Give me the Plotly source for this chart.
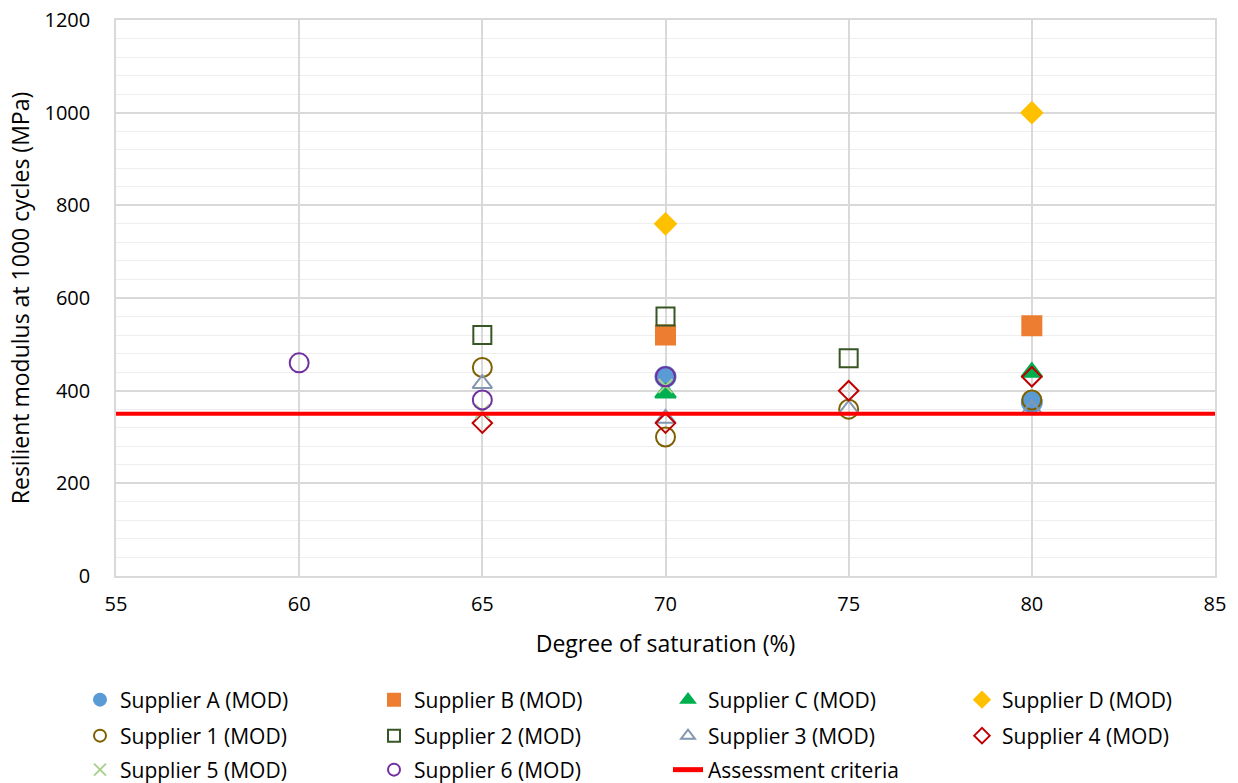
import plotly.graph_objects as go

# Degree of saturation (%) and resilient modulus (MPa) per supplier
sup_a_x = [70, 80]
sup_a_y = [430, 375]
sup_b_x = [70, 80]
sup_b_y = [520, 540]
sup_c_x = [70, 80]
sup_c_y = [395, 440]
sup_d_x = [70, 80]
sup_d_y = [760, 1000]
sup_1_x = [65, 70, 75, 80]
sup_1_y = [450, 300, 360, 380]
sup_2_x = [65, 70, 75]
sup_2_y = [520, 560, 470]
sup_3_x = [65, 70, 75, 80]
sup_3_y = [415, 340, 360, 360]
sup_4_x = [65, 70, 75, 80]
sup_4_y = [330, 330, 400, 430]
sup_5_x = [65, 70]
sup_5_y = [355, 410]
sup_6_x = [60, 65, 70]
sup_6_y = [460, 380, 430]
criteria_x = [55, 85]
criteria_y = [350, 350]

x_ticks = [55, 60, 65, 70, 75, 80, 85]
y_ticks = [0, 200, 400, 600, 800, 1000, 1200]

# name, x, y, symbol, colour, marker size, legend block
series = [
    ("Supplier A (MOD)", sup_a_x, sup_a_y, "circle", "#5B9BD5", 20, "legend"),
    ("Supplier B (MOD)", sup_b_x, sup_b_y, "square", "#ED7D31", 19, "legend"),
    ("Supplier C (MOD)", sup_c_x, sup_c_y, "triangle-up", "#00B050", 18, "legend2"),
    ("Supplier D (MOD)", sup_d_x, sup_d_y, "diamond", "#FFC000", 16, "legend2"),
    ("Supplier 1 (MOD)", sup_1_x, sup_1_y, "circle-open", "#7F6000", 19, "legend3"),
    ("Supplier 2 (MOD)", sup_2_x, sup_2_y, "square-open", "#375623", 18, "legend3"),
    ("Supplier 3 (MOD)", sup_3_x, sup_3_y, "triangle-up-open", "#8497B0", 17, "legend4"),
    ("Supplier 4 (MOD)", sup_4_x, sup_4_y, "diamond-open", "#C00000", 15, "legend4"),
    ("Supplier 5 (MOD)", sup_5_x, sup_5_y, "x-thin-open", "#A9D18E", 14, "legend5"),
    ("Supplier 6 (MOD)", sup_6_x, sup_6_y, "circle-open", "#7030A0", 19, "legend5"),
]

fig = go.Figure()
for name, xs, ys, sym, col, size, leg in series:
    fig.add_trace(go.Scatter(
        x=xs, y=ys, mode="markers", name=name, legend=leg,
        marker=dict(symbol=sym, size=size, color=col,
                    line=dict(width=2, color=col)),
        cliponaxis=False,
    ))

fig.add_trace(go.Scatter(
    x=criteria_x, y=criteria_y, mode="lines", name="Assessment criteria",
    legend="legend6", line=dict(color="#FF0000", width=4),
))

font_family = "'Open Sans', sans-serif"
W, H = 1238, 783
COL_W = 294


def legend_block(left_px, center_px):
    # two legend columns per block, one row each
    return dict(
        orientation="h", xref="container", yref="container",
        x=left_px / W, xanchor="left", y=1 - center_px / H, yanchor="middle",
        entrywidth=COL_W - 45, entrywidthmode="pixels",
        font=dict(size=21, family=font_family, color="#000000"),
        itemsizing="constant", bgcolor="rgba(0,0,0,0)",
    )


left0 = 80
left1 = left0 + 2 * COL_W

fig.update_layout(
    width=W, height=H,
    margin=dict(l=116, r=23, t=20, b=207, autoexpand=False),
    paper_bgcolor="white", plot_bgcolor="white",
    font=dict(family=font_family, size=20, color="#000000"),
    showlegend=True,
    legend=legend_block(left0, 700),
    legend2=legend_block(left1, 700),
    legend3=legend_block(left0, 736),
    legend4=legend_block(left1, 736),
    legend5=legend_block(left0, 770),
    legend6=legend_block(left1, 770),
    xaxis=dict(
        range=[55, 85], tickvals=x_ticks, showgrid=True,
        gridcolor="#D9D9D9", gridwidth=1.5, zeroline=False,
        showline=True, linecolor="#D9D9D9", linewidth=1.5, mirror=True,
        ticks="", tickfont=dict(size=20), ticklabelstandoff=9,
        title=dict(text="Degree of saturation (%)", font=dict(size=23), standoff=20),
    ),
    yaxis=dict(
        range=[0, 1200], tickvals=y_ticks, showgrid=True,
        gridcolor="#D9D9D9", gridwidth=1.5, zeroline=False,
        showline=True, linecolor="#D9D9D9", linewidth=1.5, mirror=True,
        ticks="", tickfont=dict(size=20), ticklabelstandoff=20,
        minor=dict(dtick=40, showgrid=True, gridcolor="#EEEEEE", gridwidth=1),
        title=dict(text="Resilient modulus at 1000 cycles (MPa)", font=dict(size=23), standoff=8),
    ),
)

fig.write_html("out.html")
